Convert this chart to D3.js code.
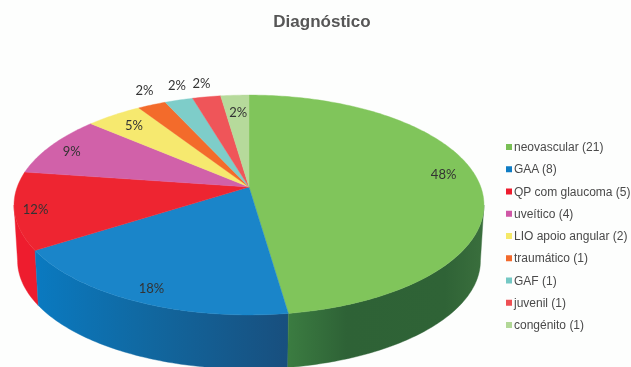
<!DOCTYPE html>
<html><head><meta charset="utf-8">
<script src="https://cdn.jsdelivr.net/npm/d3@7"></script>
<style>html,body{margin:0;padding:0;background:#fff}svg{display:block;filter:blur(.45px)}</style>
</head><body><svg id="c" width="631" height="367"></svg>
<script>
const categories = ["neovascular","GAA","QP com glaucoma","uveítico","LIO apoio angular","traumático","GAF","juvenil","congénito"];
const counts = [21,8,5,4,2,1,1,1,1];
const percentLabels = ["48%","18%","12%","9%","5%","2%","2%","2%","2%"];
const topColors = ["#80c55b","#1a85c9","#ee2531","#d161a9","#f6e96f","#f36b2b","#7ecdc9","#ef5559","#b6da9b"];
const legendColors = ["#79bf55","#0f7cc4","#ed1c2e","#cf57a6","#f5e968","#f26a2c","#74c8c4","#ee4f53","#b2d897"];

// layout, kept apart from the data: where each percentage sits
const labelRadius = [.85,.88,.9,.87,.82,1.1,1.2,1.2,.8];
const labelNudge = [[0,-7],[0,2],[-3,1],[-4,1],[-2,-2],[1,-8],[10,0],[2,1],[1,1]];

const W=631,H=367, apexX=249, apexY=187, k=-.1636, a=231.8, b=107, depth=56, shrink=.985;
const svg=d3.select("#c");
svg.append("rect").attr("width",W).attr("height",H).attr("fill","#fdfefd");

const project=(theta,r=1,lower=false)=>{
  const u=Math.sin(theta)*r, v=-Math.cos(theta)*r, w=1+k*v, s=lower?shrink:1;
  return [apexX+a*s*u/w, apexY+(lower?depth:0)+b*s*v/w];
};
const arcs=d3.pie().sort(null).value(d=>d)(counts);
const line=d3.line();
const samples=(t0,t1,lower)=>{
  const n=Math.max(2,Math.ceil((t1-t0)*60));
  return d3.range(n+1).map(i=>project(t0+(t1-t0)*i/n,1,lower));
};

const defs=svg.append("defs");
const grad=(id,stops,x1,x2)=>{
  const g=defs.append("linearGradient").attr("id",id).attr("gradientUnits","userSpaceOnUse")
    .attr("x1",x1).attr("x2",x2).attr("y1",0).attr("y2",0);
  stops.forEach(([o,c])=>g.append("stop").attr("offset",o).attr("stop-color",c));
};
grad("wall0",[[0,"#3b7c41"],[.3,"#2e6236"],[.8,"#2f6336"],[1,"#3a6f3d"]],288,484);
grad("wall1",[[0,"#0a79bf"],[.45,"#11679f"],[1,"#184f7e"]],40,288);
grad("wall2",[[0,"#ee1c2e"],[1,"#ee1c2e"]],15,45);

// visible side of the disc: silhouette angles come from the perspective constant
const frontStart=Math.acos(k), frontEnd=2*Math.PI-Math.acos(k);
svg.append("g").selectAll("path").data(arcs.slice(0,3).reverse()).join("path")
  .attr("d",d=>{
    const t0=Math.max(d.startAngle,frontStart), t1=Math.min(d.endAngle,frontEnd);
    return line([...samples(t0,t1,false),...samples(t0,t1,true).reverse()])+"Z";
  })
  .attr("fill",d=>`url(#wall${d.index})`).attr("stroke",d=>`url(#wall${d.index})`).attr("stroke-width",.4);

svg.append("g").selectAll("path").data(arcs).join("path")
  .attr("d",d=>line([[apexX,apexY],...samples(d.startAngle,d.endAngle,false)])+"Z")
  .attr("fill",d=>topColors[d.index]).attr("stroke",d=>topColors[d.index]).attr("stroke-width",.4);

svg.append("g").selectAll("text").data(arcs).join("text")
  .attr("transform",d=>{
    const p=project((d.startAngle+d.endAngle)/2,labelRadius[d.index]);
    const n=labelNudge[d.index];
    return `translate(${p[0]+n[0]},${p[1]+n[1]})`;
  })
  .attr("text-anchor","middle").attr("dominant-baseline","central")
  .attr("font-family","Lato, 'Open Sans', sans-serif").attr("font-size",13).attr("fill","#333")
  .text(d=>percentLabels[d.index]);

svg.append("text").attr("x",322).attr("y",27).attr("text-anchor","middle")
  .attr("font-family","'Liberation Sans', Arial, sans-serif").attr("font-weight","bold")
  .attr("font-size",17).attr("fill","#565656").text("Diagnóstico");

const legendY=d3.scalePoint().domain(categories).range([147,325]);
const lg=svg.append("g").selectAll("g").data(categories).join("g")
  .attr("transform",d=>`translate(506,${legendY(d)})`);
lg.append("rect").attr("x",0).attr("y",-3).attr("width",6).attr("height",6)
  .attr("fill",(d,i)=>legendColors[i]);
lg.append("text").attr("x",8).attr("y",4).attr("font-family","'Liberation Sans', Arial, sans-serif")
  .attr("font-size",12).attr("fill","#4a4a4a").text((d,i)=>`${d} (${counts[i]})`);
</script></body></html>
